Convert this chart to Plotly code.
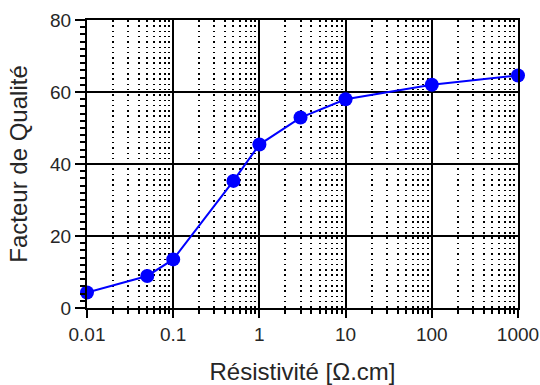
import plotly.graph_objects as go

resistivity = [0.01, 0.05, 0.1, 0.5, 1, 3, 10, 100, 1000]
quality = [4.3, 8.9, 13.5, 35.3, 45.4, 52.9, 58.0, 62.0, 64.6]

x_tickvals = [0.01, 0.1, 1, 10, 100, 1000]
x_ticktext = ["0.01", "0.1", "1", "10", "100", "1000"]
x_minor = [m * d for d in [0.01, 0.1, 1, 10, 100] for m in range(2, 10)]

font_family = "Liberation Sans, Arial, sans-serif"
txt = "#262626"

fig = go.Figure()
fig.add_trace(go.Scatter(
    x=resistivity, y=quality, mode="lines+markers",
    line=dict(color="#0000ff", width=2),
    marker=dict(color="#0000ff", size=14),
    cliponaxis=False, showlegend=False,
))

fig.update_layout(
    width=540, height=385,
    margin=dict(l=87, r=22, t=20, b=77),
    paper_bgcolor="white", plot_bgcolor="white",
    font=dict(family=font_family, size=19, color=txt),
)
fig.update_xaxes(
    type="log", range=[-2, 3], automargin=False,
    tickmode="array", tickvals=x_tickvals, ticktext=x_ticktext,
    ticks="outside", ticklen=8, tickwidth=1.5, tickcolor="black",
    showgrid=True, gridcolor="black", gridwidth=1.6,
    showline=True, linecolor="black", linewidth=2, mirror=True,
    minor=dict(tickmode="array", tickvals=x_minor, ticks="outside", ticklen=4,
               tickwidth=1.5, tickcolor="black",
               showgrid=True, gridcolor="black", gridwidth=1.5, griddash="1.5px,3.8px"),
    tickfont=dict(size=19, color=txt),
    title=dict(text="Résistivité [Ω.cm]", font=dict(size=24, color=txt), standoff=19),
    zeroline=False,
)
fig.update_yaxes(
    range=[0, 80], dtick=20, tick0=0, automargin=False,
    ticks="outside", ticklen=10, tickwidth=1.5, tickcolor="black",
    showgrid=True, gridcolor="black", gridwidth=1.6,
    showline=True, linecolor="black", linewidth=2, mirror=True,
    minor=dict(dtick=2, ticks="outside", ticklen=5, tickwidth=1.5, tickcolor="black", showgrid=False),
    tickfont=dict(size=19, color=txt),
    title=dict(text="Facteur de Qualité", font=dict(size=24, color=txt), standoff=16),
    zeroline=False,
)

fig.write_html("out.html", config={"displayModeBar": False},
               post_script="document.body.style.margin='0';document.body.style.overflow='hidden';")
